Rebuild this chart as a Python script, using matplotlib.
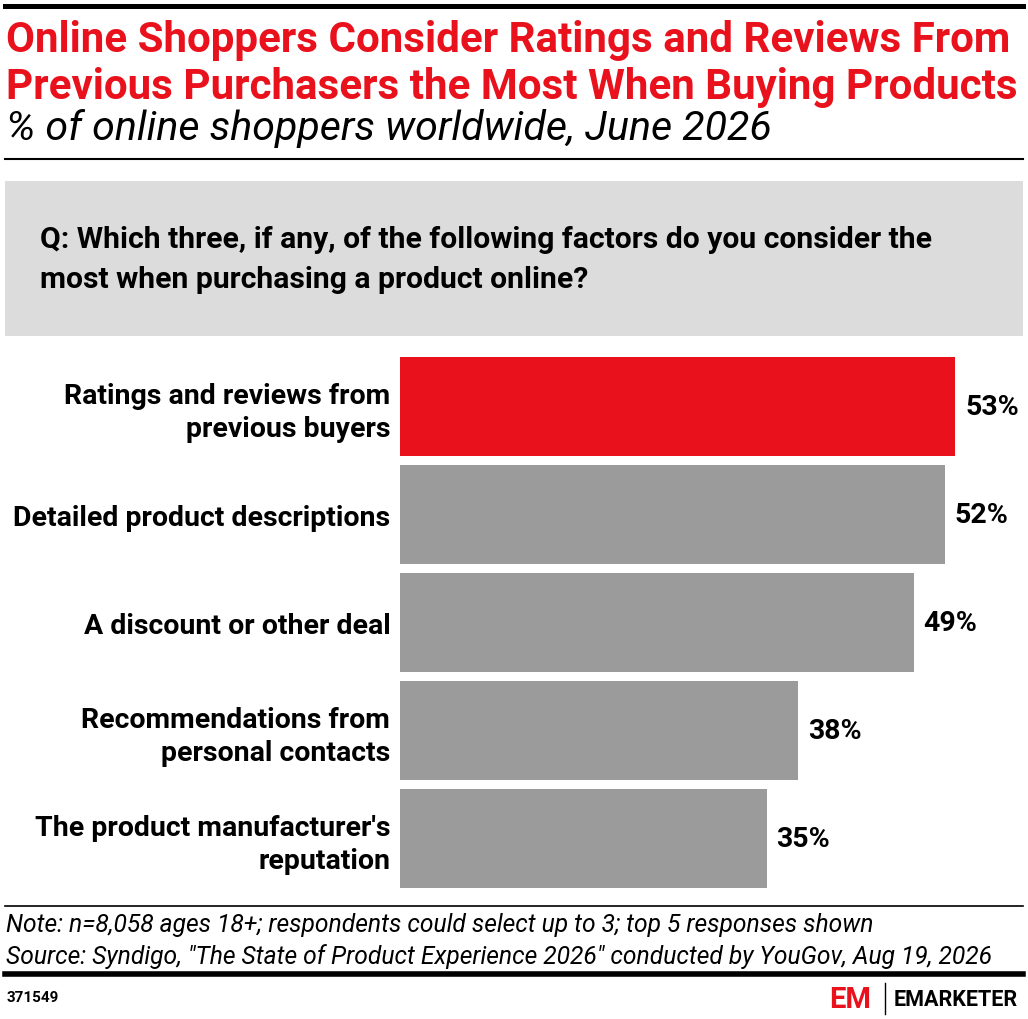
import matplotlib
matplotlib.use('Agg')
from matplotlib import pyplot

# data
categories = ["Ratings and reviews from\nprevious buyers",
              "Detailed product descriptions",
              "A discount or other deal",
              "Recommendations from\npersonal contacts",
              "The product manufacturer's\nreputation"]
values = [53, 52, 49, 38, 35]
value_labels = ["53%", "52%", "49%", "38%", "35%"]
highlight = 0

title = ("Online Shoppers Consider Ratings and Reviews From\n"
         "Previous Purchasers the Most When Buying Products")
subtitle = "% of online shoppers worldwide, June 2026"
question = ("Q: Which three, if any, of the following factors do you consider the\n"
            "most when purchasing a product online?")
note = ("Note: n=8,058 ages 18+; respondents could select up to 3; top 5 responses shown\n"
        "Source: Syndigo, \"The State of Product Experience 2026\" conducted by YouGov, Aug 19, 2026")
chart_id = "371549"

RED = '#e8111c'
GREY = '#9b9b9b'
W, H = 1028, 1020
FONT = ['Roboto', 'DejaVu Sans']
pyplot.rcParams['font.family'] = FONT

fig = pyplot.figure(figsize=(W / 100, H / 100), dpi=100)


def fx(x):
    return x / W


def fy(y):
    return 1 - y / H


def hline(y, lw, x0=5, x1=1023):
    fig.add_artist(matplotlib.lines.Line2D([fx(x0), fx(x1)], [fy(y), fy(y)],
                                           color='black', linewidth=lw))


hline(7, 3.6)
fig.text(fx(6), fy(64), title, color=RED, fontsize=30.3, fontweight='bold',
         ha='left', va='center', linespacing=1.18)
fig.text(fx(6), fy(129), subtitle, fontsize=29.6, style='italic',
         ha='left', va='center')
hline(160, 1.5)

# question box
fig.add_artist(matplotlib.patches.Rectangle((fx(5), fy(337)), fx(1018), 155 / H,
                                            facecolor='#dcdcdc', edgecolor='none'))
fig.text(fx(40), fy(260), question, fontsize=21.7, fontweight='bold',
         ha='left', va='center', linespacing=1.5)

# bars
px_per_unit = 10.48
ax_left, ax_right = 400, 1020
ax = fig.add_axes([fx(ax_left), fy(889), fx(ax_right - ax_left), 531 / H])
ax.set_xlim(0, (ax_right - ax_left) / px_per_unit)
half = 99 / 108 / 2
ax.set_ylim(len(values) - 1 + half, -half)
colors = [RED if i == highlight else GREY for i in range(len(values))]
ypos = list(range(len(values)))
ax.barh(ypos, values, height=2 * half, color=colors)
for y, v, lab in zip(ypos, values, value_labels):
    ax.annotate(lab, xy=(v, y), xytext=(7, 0), textcoords='offset points',
                ha='left', va='center', fontsize=20.5, fontweight='bold')
ax.set_yticks(ypos)
ax.set_yticklabels(categories, fontsize=20.5, fontweight='bold', linespacing=1.25)
ax.tick_params(axis='y', length=0, pad=7)
ax.set_xticks([])
for s in ax.spines.values():
    s.set_visible(False)

# footer
hline(907, 1.2)
fig.text(fx(6), fy(941), note, fontsize=17.7, style='italic',
         ha='left', va='center', linespacing=1.34)
hline(975, 4)
fig.text(fx(7), fy(998), chart_id, fontsize=11, fontweight='bold',
         ha='left', va='center')
fig.text(fx(829), fy(1000), "EM", color=RED, fontsize=21, fontweight='bold',
         ha='left', va='center')
fig.add_artist(matplotlib.lines.Line2D([fx(885), fx(885)], [fy(984), fy(1015)],
                                       color='black', linewidth=1))
fig.text(fx(894), fy(1000), "EMARKETER", fontsize=15.5, fontweight='bold',
         ha='left', va='center')

pyplot.savefig('out.png', dpi=100)
